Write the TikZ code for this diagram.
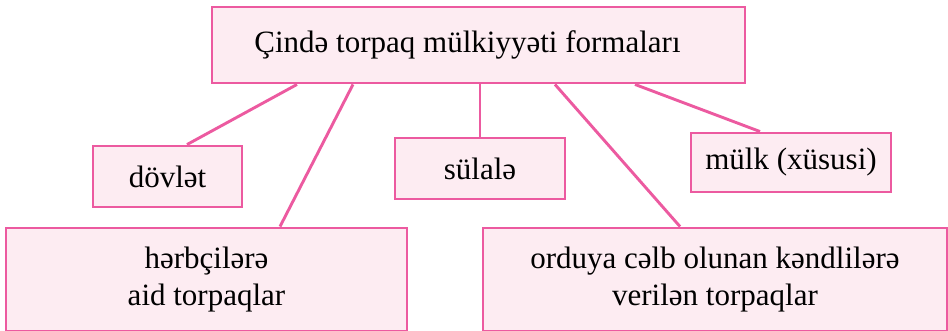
\documentclass[tikz,border=0pt]{standalone}
\usepackage{fontspec}
\newfontfamily\boxfont{Liberation Serif}
\definecolor{pinkline}{HTML}{EC5AA0}
\definecolor{pinkfill}{HTML}{FDECF2}
\begin{document}
\begin{tikzpicture}[x=1pt,y=-1pt,
  box/.style={draw=pinkline,fill=pinkfill,line width=2.9pt,inner sep=0pt,
    align=center,font=\boxfont\fontsize{31}{37}\selectfont},
  link/.style={draw=pinkline,line width=2.9pt}]
\useasboundingbox (0,0) rectangle (948,331);
\node[box,minimum width=533pt,minimum height=76pt] (top) at (478.5,45) {Çində torpaq mülkiyyəti formaları\hspace{22pt}};
\node[box,minimum width=149pt,minimum height=61pt] (dov) at (167.5,176.5) {dövlət};
\node[box,minimum width=170pt,minimum height=61pt] (sul) at (480,168.5) {sülalə};
\node[box,minimum width=200pt,minimum height=59pt] (mulk) at (791,162.5) {mülk (xüsusi)};
\node[box,minimum width=401pt,minimum height=103pt] (herb) at (206.5,279.5) {hərbçilərə\\aid torpaqlar};
\node[box,minimum width=464pt,minimum height=103pt] (ord) at (715,279.5) {orduya cəlb olunan kəndlilərə\\verilən torpaqlar};
\draw[link] (top.south -| 297,0) -- (dov.north -| 187,0);
\draw[link] (top.south -| 353,0) -- (herb.north -| 280,0);
\draw[link] (top.south -| 480,0) -- (sul.north);
\draw[link] (top.south -| 555,0) -- (ord.north -| 680,0);
\draw[link] (top.south -| 635,0) -- (mulk.north -| 760,0);
\end{tikzpicture}
\end{document}
